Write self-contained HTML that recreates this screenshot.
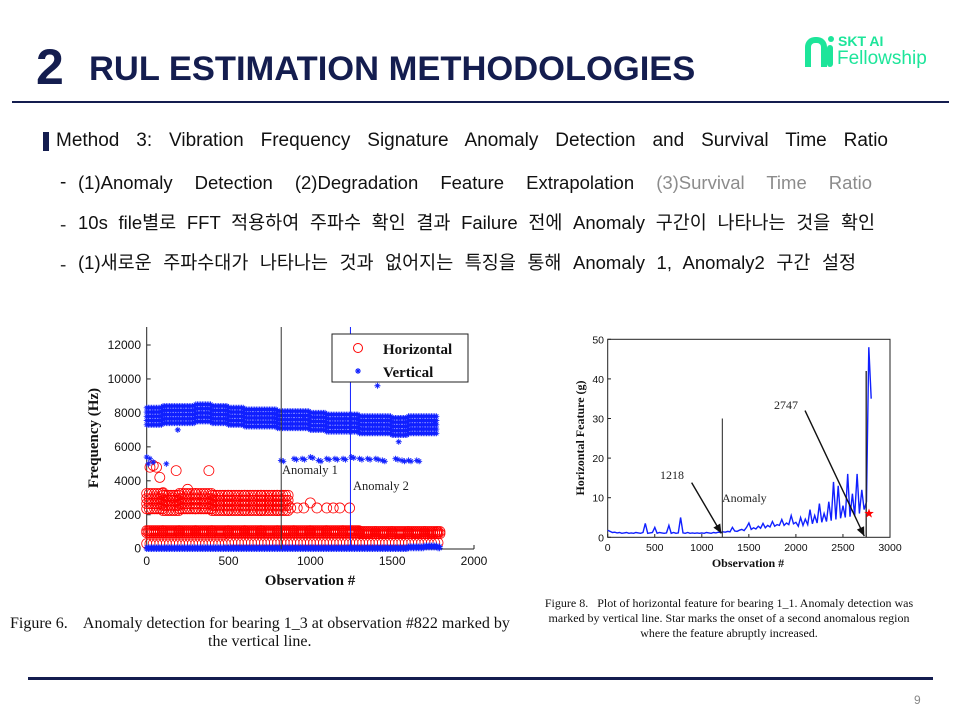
<!DOCTYPE html>
<html><head><meta charset="utf-8">
<style>
body{margin:0;background:#fff}
#slide{position:relative;width:960px;height:720px;overflow:hidden;background:#fff;font-family:"Liberation Sans","Noto Sans CJK KR",sans-serif}
.abs{position:absolute;white-space:nowrap}
.just{text-align:justify;text-align-last:justify;white-space:normal;overflow:hidden;height:28px}
.ser{font-family:"Liberation Serif",serif;color:#111}
</style></head>
<body>
<div id="slide">
 <div class="abs" style="left:36px;top:38px;font-size:50px;font-weight:bold;color:#141d4f">2</div>
 <div class="abs" style="left:89px;top:50px;font-size:34.5px;font-weight:bold;color:#141d4f">RUL ESTIMATION METHODOLOGIES</div>
 <div class="abs" style="left:805px;top:35px;width:140px;height:38px">
  <div style="position:absolute;left:0;top:2px;height:30px;border:6px solid #1de59a;border-bottom:none;border-radius:10px 10px 0 0;box-sizing:border-box;width:22px"></div>
  <div style="position:absolute;left:22px;top:10px;width:6px;height:22px;background:#1de59a;border-radius:3px"></div>
  <div style="position:absolute;left:23px;top:1px;width:6px;height:6px;background:#1de59a;border-radius:3px"></div>
  <div style="position:absolute;left:33px;top:-2px;font-size:14px;font-weight:bold;color:#1de59a">SKT AI</div>
  <div style="position:absolute;left:32px;top:13px;font-size:19px;color:#1de59a">Fellowship</div>
 </div>
 <div class="abs" style="left:12px;top:101px;width:937px;height:2px;background:#141d4f"></div>

 <div class="abs" style="left:43px;top:132px;width:6px;height:19px;background:#141d4f"></div>
 <div class="abs just" style="left:56px;top:130px;width:832px;font-size:19px;color:#111">Method 3: Vibration Frequency Signature Anomaly Detection and Survival Time Ratio</div>
 <div class="abs" style="left:60px;top:172px;font-size:19px;color:#111">-</div>
 <div class="abs just" style="left:78px;top:172px;width:794px;font-size:18.5px;color:#111">(1)Anomaly Detection (2)Degradation Feature Extrapolation <span style="color:#8c8c8c">(3)Survival Time Ratio</span></div>
 <div class="abs" style="left:60px;top:215px;font-size:19px;color:#333;font-family:'Liberation Sans',sans-serif">-</div>
 <div class="abs just" style="left:78px;top:209px;width:797px;font-size:18.5px;color:#111">10s file별로 FFT 적용하여 주파수 확인 결과 Failure 전에 Anomaly 구간이 나타나는 것을 확인</div>
 <div class="abs" style="left:60px;top:255px;font-size:19px;color:#333;font-family:'Liberation Sans',sans-serif">-</div>
 <div class="abs just" style="left:78px;top:249px;width:778px;font-size:18.5px;color:#111">(1)새로운 주파수대가 나타나는 것과 없어지는 특징을 통해 Anomaly 1, Anomaly2 구간 설정</div>

 <svg id="c1" class="abs" style="left:0;top:0" width="960" height="720"></svg>

 <div class="abs ser" style="left:10px;top:615px;font-size:16px">Figure 6.&nbsp;&nbsp;&nbsp; Anomaly detection for bearing 1_3 at observation #822 marked by</div>
 <div class="abs ser" style="left:208px;top:633px;font-size:16px">the vertical line.</div>
 <div class="abs ser" style="left:520px;top:596px;width:418px;font-size:12px;line-height:15px;text-align:center">Figure 8.&nbsp;&nbsp; Plot of horizontal feature for bearing 1_1. Anomaly detection was<br>marked by vertical line. Star marks the onset of a second anomalous region<br>where the feature abruptly increased.</div>

 <div class="abs" style="left:28px;top:677px;width:905px;height:3px;background:#141d4f"></div>
 <div class="abs" style="left:914px;top:693px;font-size:12px;color:#888">9</div>
</div>
<script>
// ---- Left chart data ----
const lObsCenters = [0,100,200,300,400,500,600,700,800,900,1000,1100,1200,1300,1400,1500,1600,1700,1780];
const vertBand = [7800,7900,7900,8000,7900,7800,7700,7700,7600,7600,7500,7400,7400,7300,7300,7200,7300,7300,7200];
const horizBand1000 = [1000,1000,1000,1000,1000,1000,1000,1000,1000,1000,1000,1000,1000,950,950,950,950,950,950];
const horizBand2700 = [2800,2700,2800,2800,2700,2700,2700,2700,2700];
const horizBand300 = [300,300,300,300,300,350,350,350,350,350,350,350,350,350,350,350,350,350,350];
const vertBandZero = [0,0,0,0,0,0,0,0,0,0,0,0,0,0,0,0,50,100,50];
const vert5200Obs = [820,900,950,1000,1050,1100,1150,1200,1250,1300,1350,1400,1440,1520,1560,1600,1650];
const vert5200 = [5200,5300,5300,5400,5200,5300,5300,5300,5400,5300,5300,5300,5200,5300,5200,5200,5200];
const vOutObs = [0,10,20,40,120,190,960,1410,1540,1760];
const vOut = [5400,5000,5300,5100,5000,7000,7800,9600,6300,7400];
const hOutObs = [20,40,60,80,180,380,880,920,960,1000,1040,1100,1140,1180,1240,100,160,250];
const hOut = [4800,4900,4800,4200,4600,4600,2400,2400,2400,2700,2400,2400,2400,2400,2400,3300,3000,3500];
const lXTicks = [0,500,1000,1500,2000];
const lYTicks = [0,2000,4000,6000,8000,10000,12000];
const anomaly1 = 822, anomaly2 = 1245;

// ---- Right chart data ----
const rObsStep = 25;
const feature = [1.8,1.5,1.2,1.3,1.1,1.2,1.0,1.1,1.2,1.0,1.1,1.0,1.2,1.1,1.0,1.2,3.5,1.0,1.1,1.2,2.5,1.0,1.2,1.1,1.0,1.1,3.0,1.0,1.2,1.0,1.1,5.0,1.1,1.0,1.2,1.0,1.1,1.0,1.1,1.0,
1.1,1.0,1.2,1.1,1.0,1.2,1.1,1.3,1.2,1.4,1.3,1.5,1.4,2.5,1.6,1.5,1.8,2.0,1.7,2.5,3.6,2.0,2.4,2.1,2.8,2.3,3.5,2.4,3.0,2.6,4.0,2.8,3.2,3.0,4.5,3.0,3.6,3.2,5.5,3.4,
3.8,2.8,5.0,3.0,4.6,3.2,7.0,3.4,5.5,3.6,8.5,3.8,6.0,4.0,9.0,4.2,14,4.5,13,4.8,8.0,5.0,16,5.2,11,5.5,16,6.0,12,7.0,9,48,35];
const rXTicks = [0,500,1000,1500,2000,2500,3000];
const rYTicks = [0,10,20,30,40,50];
const anomalyR = 1218, onsetR = 2747, onsetVal = 6;

const NS="http://www.w3.org/2000/svg";
const svg=document.getElementById('c1');
function mk(t,a,parent){const e=document.createElementNS(NS,t);for(const k in a)e.setAttribute(k,a[k]);(parent||svg).appendChild(e);return e;}

const lx=v=>146.7+v*(474-146.7)/2000, ly=v=>548.7-v*(548.7-345)/12000;
const gL=mk('g',{});


let e;
e=mk('line',{x1:146.7,y1:327,x2:146.7,y2:549,stroke:'#222','stroke-width':1},gL);

e=mk('line',{x1:146.7,y1:549,x2:474,y2:549,stroke:'#222','stroke-width':1},gL);

lXTicks.forEach(t=>{mk('line',{x1:lx(t),y1:549,x2:lx(t),y2:545,stroke:'#222'},gL);
 e=mk('text',{x:lx(t),y:565,'font-size':12,'text-anchor':'middle','font-family':'Liberation Sans',fill:'#111'},gL);e.textContent=t;
 });
lYTicks.forEach(t=>{mk('line',{x1:146.7,y1:ly(t),x2:150.7,y2:ly(t),stroke:'#222'},gL);
 e=mk('text',{x:141,y:ly(t)+4,'font-size':12,'text-anchor':'end','font-family':'Liberation Sans',fill:'#111'},gL);e.textContent=t;
 });
e=mk('text',{x:310,y:585,'font-size':15,'font-weight':'bold','text-anchor':'middle','font-family':'Liberation Serif',fill:'#111'},gL);e.textContent='Observation #';

e=mk('text',{x:0,y:0,'font-size':15,'font-weight':'bold','text-anchor':'middle','font-family':'Liberation Serif',fill:'#111',transform:'translate(98,438) rotate(-90)'},gL);e.textContent='Frequency (Hz)';


const gH=mk('g',{fill:'none',stroke:'#f00','stroke-width':0.8},gL);

const gV=mk('g',{stroke:'#1020ff','stroke-width':0.9},gL);

function circ(o,f){mk('circle',{cx:lx(o),cy:ly(f),r:5},gH);}
function star(o,f,g){const x=lx(o),y=ly(f),s=3;mk('path',{d:`M${x-s} ${y}H${x+s}M${x} ${y-s}V${y+s}M${x-2} ${y-2}L${x+2} ${y+2}M${x-2} ${y+2}L${x+2} ${y-2}`},g||gV);}
function band(obs,vals,spreads,step,fn,endObs){
 for(let i=0;i<vals.length;i++){const o0=obs[i],o1=(i+1<vals.length?obs[i+1]:endObs);
  for(let o=o0;o<o1;o+=step){spreads.forEach(s=>fn(o,vals[i]+s));}}
}
const bObs2700=lObsCenters.slice(0,horizBand2700.length);
band(lObsCenters,horizBand1000,[-60,60],12,circ,1800);
band(bObs2700,horizBand2700,[-450,-150,150,450],16,circ,880);
band(lObsCenters,horizBand300,[0],20,circ,1800);
hOutObs.forEach((o,i)=>circ(o,hOut[i]));
band(lObsCenters,vertBand,[-500,-250,0,250,500],10,star,1760);
band(lObsCenters,vertBandZero,[-20,80],10,star,1800);
vert5200Obs.forEach((o,i)=>{star(o,vert5200[i]);star(o+15,vert5200[i]-50);});
vOutObs.forEach((o,i)=>star(o,vOut[i]));

e=mk('line',{x1:lx(anomaly1),y1:327,x2:lx(anomaly1),y2:549,stroke:'#333','stroke-width':1},gL);

e=mk('line',{x1:lx(anomaly2),y1:327,x2:lx(anomaly2),y2:549,stroke:'#1020ff','stroke-width':1},gL);

e=mk('text',{x:282,y:474,'font-size':12.5,'font-family':'Liberation Serif',fill:'#222'},gL);e.textContent='Anomaly 1';

e=mk('text',{x:353,y:490,'font-size':12.5,'font-family':'Liberation Serif',fill:'#222'},gL);e.textContent='Anomaly 2';

const gLeg=mk('g',{},gL);

mk('rect',{x:332,y:334,width:136,height:48,fill:'#fff',stroke:'#222','stroke-width':1},gLeg);
mk('circle',{cx:358,cy:348,r:4.5,fill:'none',stroke:'#f00'},gLeg);
star(0,0,mk('g',{stroke:'#1020ff','stroke-width':1.1,transform:`translate(${358-lx(0)},${371-ly(0)})`},gLeg));
e=mk('text',{x:383,y:354,'font-size':15,'font-weight':'bold','font-family':'Liberation Serif',fill:'#111'},gLeg);e.textContent='Horizontal';

e=mk('text',{x:383,y:377,'font-size':15,'font-weight':'bold','font-family':'Liberation Serif',fill:'#111'},gLeg);e.textContent='Vertical';


const rx=v=>607.7+v*(890-607.7)/3000, ry=v=>537.3-v*(537.3-339.3)/50;
const gR=mk('g',{});

e=mk('rect',{x:607.7,y:339.3,width:282.3,height:198,fill:'none',stroke:'#222','stroke-width':1},gR);

rXTicks.forEach(t=>{mk('line',{x1:rx(t),y1:537.3,x2:rx(t),y2:534,stroke:'#222'},gR);
 e=mk('text',{x:rx(t),y:551,'font-size':10.5,'text-anchor':'middle','font-family':'Liberation Sans',fill:'#111'},gR);e.textContent=t;
 });
rYTicks.forEach(t=>{mk('line',{x1:607.7,y1:ry(t),x2:611,y2:ry(t),stroke:'#222'},gR);
 e=mk('text',{x:604,y:ry(t)+4,'font-size':10.5,'text-anchor':'end','font-family':'Liberation Sans',fill:'#111'},gR);e.textContent=t;
 });
e=mk('text',{x:748,y:567,'font-size':12,'font-weight':'bold','text-anchor':'middle','font-family':'Liberation Serif',fill:'#111'},gR);e.textContent='Observation #';

e=mk('text',{x:0,y:0,'font-size':12,'font-weight':'bold','text-anchor':'middle','font-family':'Liberation Serif',fill:'#111',transform:'translate(584,438) rotate(-90)'},gR);e.textContent='Horizontal Feature (g)';

const pts=feature.map((v,i)=>`${rx(i*rObsStep).toFixed(1)},${ry(v).toFixed(1)}`).join(' ');
e=mk('polyline',{points:pts,fill:'none',stroke:'#1020ff','stroke-width':1.4},gR);

e=mk('line',{x1:rx(anomalyR),y1:ry(30),x2:rx(anomalyR),y2:ry(0),stroke:'#222'},gR);

e=mk('line',{x1:rx(onsetR),y1:ry(42),x2:rx(onsetR),y2:ry(0),stroke:'#222','stroke-width':1.3},gR);

e=mk('text',{x:722,y:502,'font-size':12,'font-family':'Liberation Serif',fill:'#222'},gR);e.textContent='Anomaly';

e=mk('text',{x:660,y:479,'font-size':12,'font-family':'Liberation Serif',fill:'#222'},gR);e.textContent='1218';

e=mk('text',{x:774,y:409,'font-size':12,'font-family':'Liberation Serif',fill:'#222'},gR);e.textContent='2747';

function arrow(x1,y1,x2,y2,name){const g=mk('g',{},gR);
 const X1=rx(x1),Y1=ry(y1),X2=rx(x2),Y2=ry(y2);mk('line',{x1:X1,y1:Y1,x2:X2,y2:Y2,stroke:'#111','stroke-width':1.4},g);
 const a=Math.atan2(Y2-Y1,X2-X1),L=9,w=4;
 mk('polygon',{points:`${X2},${Y2} ${X2-L*Math.cos(a)+w*Math.sin(a)},${Y2-L*Math.sin(a)-w*Math.cos(a)} ${X2-L*Math.cos(a)-w*Math.sin(a)},${Y2-L*Math.sin(a)+w*Math.cos(a)}`,fill:'#111'},g);}
arrow(892,13.8,anomalyR-10,1,'arrow-1218');
arrow(2097,32,onsetR-20,0.3,'arrow-2747');
const sx=rx(onsetR+30),sy=ry(onsetVal);let sp='';
for(let i=0;i<10;i++){const r=i%2?2:5,an=-Math.PI/2+i*Math.PI/5;sp+=`${(sx+r*Math.cos(an)).toFixed(1)},${(sy+r*Math.sin(an)).toFixed(1)} `;}
e=mk('polygon',{points:sp,fill:'#f00'},gR);

</script>
</body></html>
